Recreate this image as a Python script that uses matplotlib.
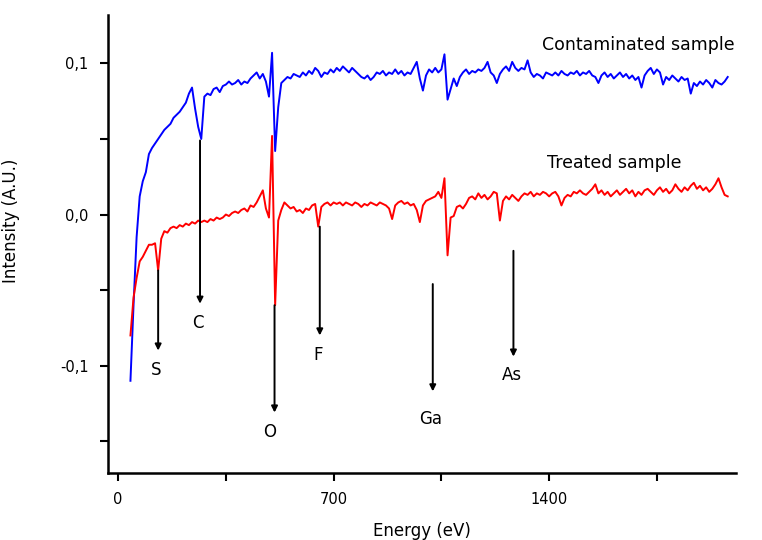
import numpy as np
import matplotlib.pyplot as plt

# energy grid of the spectra (eV)
energy = np.arange(40, 1981, 10)

# contaminated sample (blue)
contaminated = [
    -0.110, -0.060, -0.015, 0.012, 0.022, 0.028, 0.040, 0.044, 0.047, 0.050,
    0.053, 0.056, 0.058, 0.060, 0.064, 0.066, 0.068, 0.071, 0.074, 0.080,
    0.084, 0.070, 0.058, 0.050, 0.078, 0.080, 0.079, 0.083, 0.084, 0.081,
    0.085, 0.086, 0.088, 0.086, 0.087, 0.089, 0.086, 0.088, 0.087, 0.090,
    0.092, 0.094, 0.090, 0.093, 0.088, 0.078, 0.107, 0.042, 0.071, 0.087,
    0.089, 0.091, 0.090, 0.093, 0.092, 0.091, 0.094, 0.092, 0.095, 0.093,
    0.097, 0.095, 0.091, 0.094, 0.093, 0.096, 0.094, 0.097, 0.095, 0.098,
    0.096, 0.094, 0.097, 0.095, 0.093, 0.091, 0.090, 0.092, 0.089, 0.091,
    0.094, 0.093, 0.095, 0.092, 0.094, 0.093, 0.096, 0.093, 0.095, 0.092,
    0.094, 0.093, 0.097, 0.101, 0.090, 0.082, 0.092, 0.096, 0.094, 0.097,
    0.094, 0.096, 0.106, 0.076, 0.083, 0.090, 0.085, 0.091, 0.094, 0.096,
    0.093, 0.095, 0.094, 0.096, 0.095, 0.097, 0.101, 0.094, 0.092, 0.087,
    0.093, 0.096, 0.098, 0.095, 0.101, 0.097, 0.095, 0.097, 0.096, 0.102,
    0.094, 0.091, 0.093, 0.092, 0.090, 0.094, 0.093, 0.092, 0.094, 0.092,
    0.095, 0.093, 0.092, 0.094, 0.093, 0.095, 0.092, 0.094, 0.093, 0.095,
    0.092, 0.091, 0.087, 0.092, 0.094, 0.091, 0.093, 0.090, 0.092, 0.094,
    0.091, 0.093, 0.090, 0.092, 0.089, 0.091, 0.084, 0.092, 0.095, 0.097,
    0.093, 0.096, 0.094, 0.086, 0.091, 0.089, 0.092, 0.090, 0.088, 0.091,
    0.089, 0.090, 0.080, 0.087, 0.085, 0.088, 0.086, 0.089, 0.087, 0.084,
    0.089, 0.087, 0.086, 0.088, 0.091,
]

# treated sample (red)
treated = [
    -0.080, -0.055, -0.042, -0.031, -0.028, -0.024, -0.020, -0.020, -0.019, -0.037,
    -0.016, -0.011, -0.012, -0.009, -0.008, -0.009, -0.007, -0.008, -0.006, -0.007,
    -0.005, -0.006, -0.004, -0.005, -0.004, -0.005, -0.003, -0.004, -0.002, -0.003,
    -0.002, 0.000, -0.001, 0.001, 0.002, 0.001, 0.003, 0.004, 0.002, 0.006,
    0.005, 0.008, 0.012, 0.016, 0.004, -0.002, 0.052, -0.060, -0.004, 0.003,
    0.008, 0.006, 0.004, 0.005, 0.002, 0.003, 0.001, 0.004, 0.003, 0.006,
    0.007, -0.008, 0.005, 0.007, 0.008, 0.006, 0.008, 0.007, 0.008, 0.006,
    0.008, 0.007, 0.006, 0.008, 0.007, 0.005, 0.007, 0.006, 0.008, 0.007,
    0.006, 0.008, 0.007, 0.006, 0.004, -0.003, 0.006, 0.008, 0.009, 0.007,
    0.008, 0.006, 0.007, 0.003, -0.005, 0.006, 0.009, 0.010, 0.011, 0.012,
    0.015, 0.011, 0.024, -0.027, -0.002, -0.001, 0.005, 0.006, 0.004, 0.007,
    0.011, 0.012, 0.010, 0.014, 0.011, 0.013, 0.010, 0.012, 0.015, 0.014,
    -0.004, 0.009, 0.012, 0.010, 0.013, 0.011, 0.009, 0.012, 0.014, 0.013,
    0.015, 0.012, 0.014, 0.013, 0.015, 0.014, 0.012, 0.014, 0.015, 0.012,
    0.006, 0.011, 0.013, 0.012, 0.015, 0.014, 0.016, 0.014, 0.013, 0.015,
    0.017, 0.020, 0.014, 0.016, 0.013, 0.015, 0.012, 0.014, 0.016, 0.013,
    0.015, 0.017, 0.014, 0.016, 0.012, 0.015, 0.013, 0.016, 0.017, 0.015,
    0.013, 0.016, 0.018, 0.015, 0.017, 0.014, 0.016, 0.020, 0.017, 0.015,
    0.018, 0.016, 0.019, 0.021, 0.017, 0.019, 0.016, 0.018, 0.015, 0.017,
    0.020, 0.024, 0.018, 0.013, 0.012,
]

# element markers: name, energy, arrow start, arrow end, label position
elements = ["S", "C", "O", "F", "Ga", "As"]
elem_energy = [130, 266, 508, 655, 1022, 1284]
elem_top = [-0.037, 0.049, -0.060, -0.008, -0.046, -0.024]
elem_tip = [-0.090, -0.059, -0.131, -0.080, -0.117, -0.094]
elem_label_x = [125, 260, 493, 650, 1015, 1278]
elem_label_y = [-0.103, -0.072, -0.144, -0.093, -0.135, -0.106]

fig = plt.figure(figsize=(7.62, 5.40), dpi=100)
ax = fig.add_axes([0.1417, 0.1241, 0.8242, 0.8481])

ax.plot(energy, contaminated, color="#0000ff", lw=1.4)
ax.plot(energy, treated, color="#ff0000", lw=1.4)

for name, e, y0, y1, lx, ly in zip(elements, elem_energy, elem_top, elem_tip,
                                     elem_label_x, elem_label_y):
    ax.annotate("", xy=(e, y1), xytext=(e, y0),
                arrowprops=dict(arrowstyle="-|>", color="black", lw=1.4,
                                mutation_scale=9, shrinkA=0, shrinkB=0))
    ax.text(lx, ly, name, ha="center", va="center", fontsize=12)

ax.text(1376, 0.112, "Contaminated sample", ha="left", va="center",
        fontsize=12.5, clip_on=False)
ax.text(1392, 0.034, "Treated sample", ha="left", va="center", fontsize=12.5)

ax.set_xlim(-33, 2007)
ax.set_ylim(-0.171, 0.132)

ax.set_xticks([0, 350, 700, 1050, 1400, 1750])
ax.set_xticklabels(["0", "", "700", "", "1400", ""])
ax.set_yticks([-0.15, -0.1, -0.05, 0.0, 0.05, 0.1])
ax.set_yticklabels(["", "-0,1", "", "0,0", "", "0,1"])
ax.tick_params(axis="both", direction="out", length=6, width=1.5,
               labelsize=10.5, pad=8)

for side in ["top", "right"]:
    ax.spines[side].set_visible(False)
for side in ["left", "bottom"]:
    ax.spines[side].set_linewidth(1.8)

ax.set_xlabel("Energy (eV)", fontsize=12)
ax.set_ylabel("Intensity (A.U.)", fontsize=12)
ax.xaxis.set_label_coords(0.5, -0.108)
ax.yaxis.set_label_coords(-0.14, 0.55)

plt.savefig("out.png", dpi=100)
